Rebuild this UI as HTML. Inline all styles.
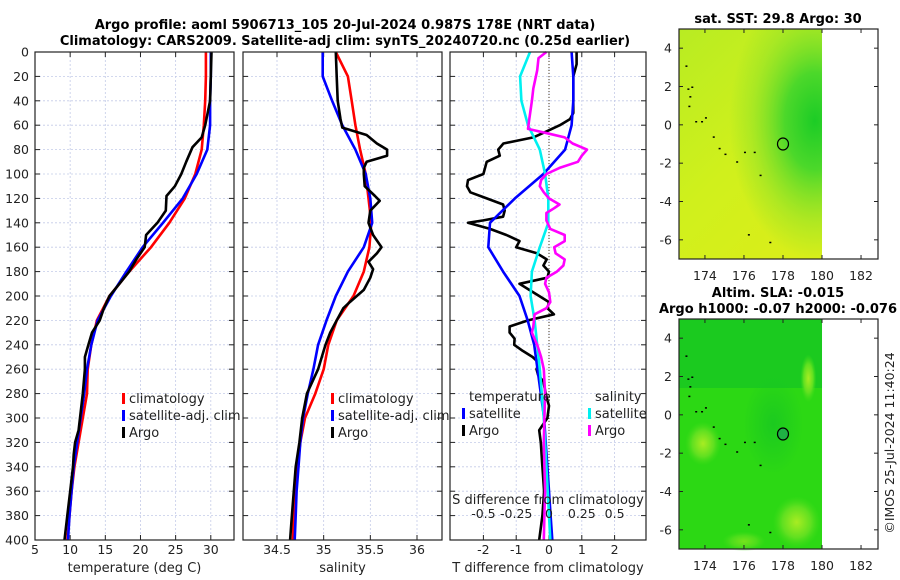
<!DOCTYPE html>
<html><head><meta charset="utf-8">
<style>
html,body{margin:0;padding:0;background:#fff;}
svg{display:block;font-family:"DejaVu Sans","Liberation Sans",sans-serif;}
</style></head>
<body>
<svg id="fig" width="900" height="580" viewBox="0 0 900 580" xmlns="http://www.w3.org/2000/svg">
<defs>
<linearGradient id="sstg" x1="0" y1="0" x2="0.6" y2="1">
<stop offset="0" stop-color="#b8ec22"/><stop offset="0.6" stop-color="#d0f01c"/><stop offset="1" stop-color="#d8ee1a"/>
</linearGradient>
<radialGradient id="sstgreen" cx="0.95" cy="0.4" r="0.6">
<stop offset="0" stop-color="#1ccc26"/><stop offset="0.35" stop-color="#4cd82a"/><stop offset="0.75" stop-color="#8ee228" stop-opacity="0.5"/><stop offset="1" stop-color="#8ee228" stop-opacity="0"/>
</radialGradient>
<radialGradient id="blob" cx="0.5" cy="0.5" r="0.5">
<stop offset="0" stop-color="#a8ec22"/><stop offset="0.6" stop-color="#60e020"/><stop offset="1" stop-color="#40dc18" stop-opacity="0"/>
</radialGradient>
<radialGradient id="darkblob" cx="0.5" cy="0.5" r="0.5">
<stop offset="0" stop-color="#14c424" stop-opacity="0.7"/><stop offset="1" stop-color="#14c424" stop-opacity="0"/>
</radialGradient>
</defs>
<text x="345" y="29" text-anchor="middle" font-weight="bold" font-size="13">Argo profile: aoml 5906713_105 20-Jul-2024 0.987S 178E (NRT data)</text>
<text x="345" y="45" text-anchor="middle" font-weight="bold" font-size="13">Climatology: CARS2009. Satellite-adj clim: synTS_20240720.nc (0.25d earlier)</text>
<g id="panels"></g>
<g id="maps"></g>
<text transform="translate(894,443) rotate(-90)" text-anchor="middle" font-size="12.5" fill="#222">©IMOS 25-Jul-2024 11:40:24</text>
</svg>
<script>
const depths=[0,20,40,60,80,100,120,140,160,180,200,220,240,260,280,300,320,340,360,380,400];
const tempClim=[29.3,29.3,29.2,29.0,28.7,27.8,26.3,24.1,21.5,18.4,15.6,13.8,13.0,12.5,12.4,11.8,11.2,10.6,10.2,9.9,9.6];
const tempSat=[30.0,30.0,29.9,29.9,29.5,28.0,26.0,23.2,20.3,18.0,15.8,13.9,13.0,12.4,12.0,11.5,11.0,10.5,10.2,9.9,9.7];
const argoDepths=[0,20,40,60,70,78,90,100,110,118,130,140,150,160,170,180,190,200,210,220,230,240,250,260,280,300,310,320,330,340,360,380,400];
const tempArgo=[30.1,30.0,29.9,29.2,28.7,27.4,26.5,25.8,24.9,23.7,23.6,22.4,20.8,20.6,19.4,18.4,17.0,15.6,14.8,14.2,13.1,12.6,12.1,12.1,11.8,11.4,11.2,10.7,10.5,10.4,10.0,9.6,9.2];
const salClim=[35.13,35.26,35.30,35.34,35.39,35.45,35.48,35.51,35.49,35.43,35.32,35.14,35.05,35.0,34.91,34.8,34.75,34.72,34.70,34.68,34.67];
const salSat=[34.99,34.99,35.09,35.2,35.34,35.45,35.5,35.52,35.43,35.26,35.13,35.03,34.94,34.89,34.83,34.78,34.75,34.73,34.71,34.70,34.69];
const salArgoDepths=[0,20,40,55,62,68,75,80,85,90,95,100,110,118,122,130,140,150,160,165,172,178,185,195,205,210,220,230,240,260,280,300,320,340,360,380,400];
const salArgo=[35.13,35.14,35.15,35.18,35.2,35.46,35.57,35.68,35.68,35.46,35.43,35.43,35.44,35.55,35.6,35.5,35.48,35.53,35.62,35.57,35.48,35.53,35.5,35.43,35.28,35.21,35.14,35.07,35.02,34.94,34.82,34.77,34.74,34.70,34.68,34.66,34.64];
const dtDepths=[0,10,20,50,55,60,65,70,75,80,85,90,100,105,110,115,120,125,130,135,138,140,145,150,155,160,165,170,175,180,185,190,195,200,205,210,215,220,225,230,235,240,245,250,255,260,265,270,280,290,300,310,320,340,360,380,400];
const dtArgo=[0.84,0.84,0.74,0.74,0.64,0.33,-0.07,-0.48,-1.39,-1.55,-1.5,-1.9,-2.0,-2.47,-2.5,-2.4,-1.9,-1.4,-1.35,-1.4,-2.0,-2.47,-1.8,-1.3,-0.9,-1.0,-0.37,-0.07,-0.17,0.0,-0.05,-0.9,-0.6,-0.3,0.0,-0.05,0.15,-0.64,-1.2,-1.2,-1.05,-1.06,-0.8,-0.5,-0.3,-0.38,-0.33,-0.17,-0.1,0.0,-0.05,-0.3,-0.25,-0.2,-0.15,-0.2,-0.3];
const dtSat=[0.69,0.74,0.74,0.69,0.49,-0.17,-1.04,-1.8,-1.85,-1.4,-0.9,-0.65,-0.45,-0.35,-0.25,-0.15,-0.1,-0.05,0.0,0.05,0.1];
const dsSat=[-0.145,-0.22,-0.21,-0.16,-0.07,-0.03,-0.005,-0.005,-0.07,-0.13,-0.14,-0.11,-0.09,-0.07,-0.055,-0.04,-0.03,-0.02,-0.01,0.0,0.01];
const dsDepths=[0,5,15,30,40,55,63,67,70,75,80,85,90,95,100,105,110,115,120,125,128,132,138,145,150,155,160,165,170,175,180,185,190,197,205,210,215,225,230,240,250,260,280,300,320,340,360,380,400];
const dsArgo=[-0.02,-0.08,-0.09,-0.12,-0.13,-0.15,-0.16,0.0,0.12,0.18,0.29,0.25,0.22,0.08,-0.02,-0.06,-0.07,-0.04,0.0,0.08,0.04,-0.02,-0.02,0.01,0.12,0.12,0.04,0.05,0.12,0.11,0.06,-0.02,-0.03,0.0,0.01,-0.02,-0.11,-0.12,-0.13,-0.09,-0.06,-0.04,-0.03,-0.035,-0.04,-0.035,-0.03,-0.035,-0.04];
const tTicks=[5,10,15,20,25,30];
const sTicks=[34.5,35,35.5,36];
const dTicks=[-2,-1,0,1,2];
const dsTicks=[-0.5,-0.25,0,0.25,0.5];
const dsTickLabels=["-0.5","-0.25","0","0.25","0.5"];
const yTicks=[0,20,40,60,80,100,120,140,160,180,200,220,240,260,280,300,320,340,360,380,400];
const mapLatTicks=[4,2,0,-2,-4,-6];
const mapLonTicks=[174,176,178,180,182];

const NS='http://www.w3.org/2000/svg';
function mk(tag,attrs,parent){const e=document.createElementNS(NS,tag);for(const k in attrs)e.setAttribute(k,attrs[k]);parent.appendChild(e);return e;}
const TOP=52,BOT=540;
const yS=d=>TOP+(d/400)*(BOT-TOP);
function lin(d0,d1,r0,r1){return v=>r0+(v-d0)/(d1-d0)*(r1-r0);}
const G=document.getElementById('panels');

function panel(name,x0,x1,xs,ticks,labels,xlabel,showY){
  const g=mk('g',{},G);
  
  
  ticks.forEach(t=>{const l=mk('line',{x1:xs(t),x2:xs(t),y1:TOP,y2:BOT,stroke:'#c4cbe8','stroke-width':0.8,'stroke-dasharray':'2,2'},g);
    });
  yTicks.forEach(t=>{if(t===0||t===400)return;const l=mk('line',{x1:x0,x2:x1,y1:yS(t),y2:yS(t),stroke:'#c4cbe8','stroke-width':0.8,'stroke-dasharray':'2,2'},g);
    });
  yTicks.forEach(t=>{mk('line',{x1:x0,x2:x0+5,y1:yS(t),y2:yS(t),stroke:'#222'},g);mk('line',{x1:x1-5,x2:x1,y1:yS(t),y2:yS(t),stroke:'#222'},g);
    if(showY){const tx=mk('text',{x:x0-6,y:yS(t)+4.5,'text-anchor':'end','font-size':12.5,fill:'#222'},g);tx.textContent=t;
      }});
  ticks.forEach((t,i)=>{mk('line',{x1:xs(t),x2:xs(t),y1:BOT,y2:BOT-5,stroke:'#222'},g);mk('line',{x1:xs(t),x2:xs(t),y1:TOP,y2:TOP+5,stroke:'#222'},g);
    const tx=mk('text',{x:xs(t),y:554,'text-anchor':'middle','font-size':12.5,fill:'#222'},g);tx.textContent=labels[i];
    });
  const xl=mk('text',{x:(x0+x1)/2,y:572,'text-anchor':'middle','font-size':13,fill:'#222'},g);xl.textContent=xlabel;
  
  return g;
}
function frame(g,x0,x1){const r=mk('rect',{x:x0,y:TOP,width:x1-x0,height:BOT-TOP,fill:'none',stroke:'#222','stroke-width':1.2},g);
  }
function line(g,xs,vals,ds,color,name){
  const pts=vals.map((v,i)=>xs(v).toFixed(1)+','+yS(ds[i]).toFixed(1)).join(' ');
  const p=mk('polyline',{points:pts,fill:'none',stroke:color,'stroke-width':2.6,'stroke-linejoin':'round'},g);
  
}
function legend(g,x,y,items){
  items.forEach((it,i)=>{
    const yy=y+i*17;
    if(it.c){const m=mk('rect',{x:x,y:yy-7,width:3,height:11,fill:it.c},g);
      }
    const t=mk('text',{x:x+7,y:yy+3,'font-size':13,fill:'#222'},g);t.textContent=it.t;
    
  });
}
// Panel 1
const xT=lin(5,33.3,35,234);
let g1=panel('temperature-panel',35,234,xT,tTicks,tTicks.map(String),'temperature (deg C)',true);
line(g1,xT,tempClim,depths,'#ff0000','temp-climatology-line');
line(g1,xT,tempSat,depths,'#0000ff','temp-satellite-line');
line(g1,xT,tempArgo,argoDepths,'#000000','temp-argo-line');
legend(g1,122,400,[{c:'#ff0000',t:'climatology'},{c:'#0000ff',t:'satellite-adj. clim'},{c:'#000',t:'Argo'}]);
frame(g1,35,234);
// Panel 2
const xS=lin(34.5,36,277,417);
let g2=panel('salinity-panel',243,442,xS,sTicks,['34.5','35','35.5','36'],'salinity',false);
line(g2,xS,salClim,depths,'#ff0000','sal-climatology-line');
line(g2,xS,salSat,depths,'#0000ff','sal-satellite-line');
line(g2,xS,salArgo,salArgoDepths,'#000000','sal-argo-line');
legend(g2,331,400,[{c:'#ff0000',t:'climatology'},{c:'#0000ff',t:'satellite-adj. clim'},{c:'#000',t:'Argo'}]);
frame(g2,243,442);
// Panel 3
const xD=lin(0,1,549,581.8);
const xDS=lin(0,0.25,549,581.8);
let g3=panel('difference-panel',450,646,xD,dTicks,dTicks.map(String),'T difference from climatology',false);
const zl=mk('line',{x1:xD(0),x2:xD(0),y1:TOP,y2:BOT,stroke:'#4a3a20','stroke-width':1,'stroke-dasharray':'1,2'},g3);

line(g3,xD,dtArgo,dtDepths,'#000000','tdiff-argo-line');
line(g3,xD,dtSat,depths,'#0000ff','tdiff-satellite-line');
line(g3,xDS,dsSat,depths,'#00f0f0','sdiff-satellite-line');
line(g3,xDS,dsArgo,dsDepths,'#ff00ff','sdiff-argo-line');
legend(g3,462,398,[{t:'temperature'},{c:'#0000ff',t:'satellite'},{c:'#000',t:'Argo'}]);
legend(g3,588,398,[{t:'salinity'},{c:'#00f0f0',t:'satellite'},{c:'#ff00ff',t:'Argo'}]);
const st=mk('text',{x:548,y:504,'text-anchor':'middle','font-size':13,fill:'#222'},g3);st.textContent='S difference from climatology';

dsTicks.forEach((t,i)=>{const tx=mk('text',{x:xDS(t),y:518,'text-anchor':'middle','font-size':12.5,fill:'#222'},g3);tx.textContent=dsTickLabels[i];
  });
frame(g3,450,646);

// Maps
const M=document.getElementById('maps');
const coast=[[173.0,3.1],[173.1,1.9],[173.2,1.5],[173.15,1.0],[173.3,2.0],[173.5,0.2],[173.8,0.2],[174.0,0.4],[174.4,-0.6],[174.7,-1.2],[175.0,-1.5],[175.6,-1.9],[176.0,-1.4],[176.5,-1.4],[176.8,-2.6],[176.2,-5.7],[177.3,-6.1]];
function map(name,top,bot,title1,title2,isSst){
  const g=mk('g',{},M);
  
  const lx=lin(172.67,182.87,679,878), ly=lin(5,-7,top,bot);
  const w=lx(180)-679;
  const d=mk('rect',{x:679,y:top,width:w,height:bot-top,fill:isSst?'url(#sstg)':'#2cd814'},g);
  
  if(isSst){
    mk('rect',{x:679,y:top,width:w,height:bot-top,fill:'url(#sstgreen)'},g);
  } else {
    mk('rect',{x:679,y:top,width:w,height:(bot-top)*0.3,fill:'#14c424',opacity:0.7},g);
    mk('ellipse',{cx:lx(177.5),cy:ly(-0.5),rx:30,ry:50,fill:'url(#darkblob)'},g);
    mk('ellipse',{cx:lx(173.9),cy:ly(-1.5),rx:18,ry:22,fill:'url(#blob)'},g);
    mk('ellipse',{cx:lx(179.3),cy:ly(1.9),rx:8,ry:24,fill:'url(#blob)'},g);
    mk('ellipse',{cx:lx(178.7),cy:ly(-5.6),rx:24,ry:26,fill:'url(#blob)'},g);
    mk('ellipse',{cx:lx(176),cy:ly(-6.6),rx:22,ry:10,fill:'url(#blob)',opacity:0.6},g);
  }
  coast.forEach(c=>{mk('rect',{x:lx(c[0]),y:ly(c[1]),width:2,height:1.5,fill:'#000'},g);});
  const ci=mk('ellipse',{cx:lx(178),cy:ly(-1),rx:5.5,ry:6,fill:isSst?'none':'#1fb044',stroke:'#000','stroke-width':1.2},g);
  
  mapLatTicks.forEach(t=>{mk('line',{x1:679,x2:683,y1:ly(t),y2:ly(t),stroke:'#222'},g);mk('line',{x1:874,x2:878,y1:ly(t),y2:ly(t),stroke:'#222'},g);
    const tx=mk('text',{x:672,y:ly(t)+4.5,'text-anchor':'end','font-size':12.5,fill:'#222'},g);tx.textContent=t;
    });
  mapLonTicks.forEach(t=>{mk('line',{x1:lx(t),x2:lx(t),y1:bot,y2:bot-4,stroke:'#222'},g);mk('line',{x1:lx(t),x2:lx(t),y1:top,y2:top+4,stroke:'#222'},g);
    const tx=mk('text',{x:lx(t),y:bot+21,'text-anchor':'middle','font-size':12.5,fill:'#222'},g);tx.textContent=t;
    });
  const fr=mk('rect',{x:679,y:top,width:199,height:bot-top,fill:'none',stroke:'#222','stroke-width':1.2},g);
  
  if(title2){
    const t1=mk('text',{x:778,y:top-22,'text-anchor':'middle','font-size':13,'font-weight':'bold'},g);t1.textContent=title1;
    
    const t2=mk('text',{x:778,y:top-6,'text-anchor':'middle','font-size':13,'font-weight':'bold'},g);t2.textContent=title2;
    
  } else {
    const t1=mk('text',{x:778,y:top-6,'text-anchor':'middle','font-size':13,'font-weight':'bold'},g);t1.textContent=title1;
    
  }
}
map('sst-map',29,259,'sat. SST: 29.8 Argo: 30',null,true);
map('sla-map',319,549,'Altim. SLA: -0.015','Argo h1000: -0.07 h2000: -0.076',false);
</script>
</body></html>
